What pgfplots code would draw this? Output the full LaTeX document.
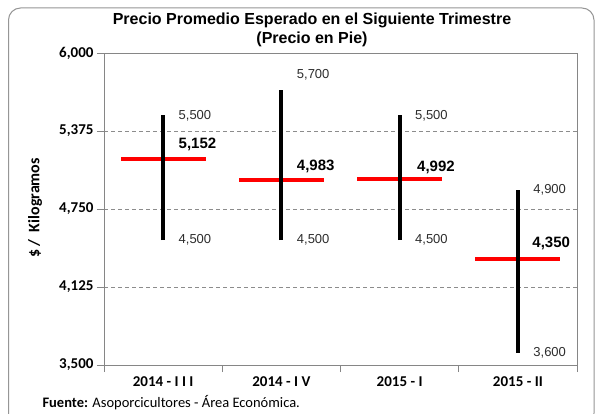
\documentclass[border=0pt]{standalone}
\usepackage{fontspec}
\setmainfont{Liberation Sans}
\newfontfamily\carlito{Carlito}
\usepackage{pgfplots}
\usepackage{pgfplotstable}
\pgfplotsset{compat=1.18}
\definecolor{axisgray}{RGB}{134,134,134}
\definecolor{gridgray}{RGB}{140,140,140}
\definecolor{bordergray}{RGB}{150,150,150}
\definecolor{lblgray}{RGB}{45,45,45}

\pgfplotstableread{
x low high mean
0 4500 5500 5152
1 4500 5700 4983
2 4500 5500 4992
3 3600 4900 4350
}\data

\begin{document}
\begin{tikzpicture}[x=1pt,y=1pt]
\clip (0,0) rectangle (596,413);
\fill[white] (0,0) rectangle (596,413);
\draw[bordergray, line width=1pt, rounded corners=12pt] (8.5,-12) rectangle (594,405);
\node[font=\bfseries\fontsize{16}{18}\selectfont] at (312,393) {Precio Promedio Esperado en el Siguiente Trimestre};
\node[font=\bfseries\fontsize{16}{18}\selectfont] at (312,374) {(Precio en Pie)};
\node[rotate=90, font=\carlito\bfseries\fontsize{16}{18}\selectfont] at (35,205) {\$ /\ \ Kilogramos};
\node[anchor=west, font=\carlito\fontsize{14.5}{16}\selectfont] at (39,10) {\textbf{Fuente:} Asoporcicultores - Área Económica.};
\begin{axis}[
  at={(104pt,48pt)}, anchor=south west,
  scale only axis, width=473pt, height=312pt,
  xmin=-0.5, xmax=3.5, ymin=3500, ymax=6000,
  ytick={3500,4125,4750,5375,6000},
  xtick={-0.5,0.5,1.5,2.5,3.5}, xticklabels={},
  extra x ticks={0,1,2,3},
  extra x tick labels={2014 - I I I, 2014 - I V, 2015 - I, 2015 - II},
  extra x tick style={major tick length=0pt, ymajorgrids=false,
    xticklabel style={yshift=-8pt}},
  tick align=outside, tick pos=left, major tick length=7pt,
  tick style={axisgray, line width=0.8pt},
  axis line style={axisgray, line width=0.8pt},
  ymajorgrids, grid style={gridgray, line width=0.7pt, dash pattern=on 4pt off 3pt},
  /pgf/number format/.cd, 1000 sep={,}, assume math mode=true, /pgfplots/.cd,
  yticklabel style={font=\carlito\bfseries\fontsize{15}{16}\selectfont},
  xticklabel style={font=\carlito\bfseries\fontsize{15}{16}\selectfont},
  clip=false,
]
% red mean lines
\addplot[draw=none, mark=none, forget plot,
  error bars/.cd, x dir=both, x fixed=0.36, error mark=none,
  error bar style={line width=4pt, red}]
  table[x=x, y=mean] {\data};
% black high-low bars
\addplot[draw=none, mark=none, forget plot,
  error bars/.cd, y dir=plus, y explicit, error mark=none,
  error bar style={line width=4pt, black}]
  table[x=x, y=low, y error expr=\thisrow{high}-\thisrow{low}] {\data};
% value labels
\begin{scope}[every node/.style={anchor=west, font=\fontsize{13}{14}\selectfont, text=lblgray}]
\node[xshift=12pt] at (axis cs:0,5500) {5,500};
\node[xshift=12pt] at (axis cs:0,4500) {4,500};
\node[xshift=12pt, yshift=16pt] at (axis cs:1,5700) {5,700};
\node[xshift=12pt] at (axis cs:1,4500) {4,500};
\node[xshift=12pt] at (axis cs:2,5500) {5,500};
\node[xshift=12pt] at (axis cs:2,4500) {4,500};
\node[xshift=12pt] at (axis cs:3,4900) {4,900};
\node[xshift=12pt] at (axis cs:3,3600) {3,600};
\end{scope}
\begin{scope}[every node/.style={anchor=west, font=\bfseries\fontsize{15}{16}\selectfont, text=black}]
\node[xshift=12pt, yshift=14pt] at (axis cs:0,5152) {5,152};
\node[xshift=12pt, yshift=14pt] at (axis cs:1,4983) {4,983};
\node[xshift=14pt, yshift=11pt] at (axis cs:2,4992) {4,992};
\node[xshift=11pt, yshift=15pt] at (axis cs:3,4350) {4,350};
\end{scope}
\end{axis}
\end{tikzpicture}
\end{document}
